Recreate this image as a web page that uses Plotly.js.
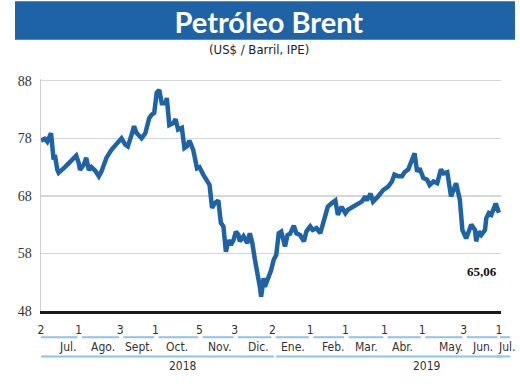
<!DOCTYPE html>
<html><head><meta charset="utf-8">
<script src="https://cdn.plot.ly/plotly-3.0.1.min.js"></script>
<style>html,body{margin:0;padding:0;background:#fff}#chart{width:520px;height:390px}</style>
</head><body><div id="chart"></div>
<script>
const dates = [
'2018-07-02','2018-07-05','2018-07-07','2018-07-10','2018-07-12','2018-07-13','2018-07-15','2018-07-16','2018-07-21','2018-07-26',
'2018-07-30','2018-08-01','2018-08-02','2018-08-05','2018-08-07','2018-08-09','2018-08-11','2018-08-14','2018-08-17','2018-08-19',
'2018-08-23','2018-08-27','2018-08-31','2018-09-04','2018-09-07','2018-09-09','2018-09-12','2018-09-14','2018-09-16','2018-09-20',
'2018-09-23','2018-09-26','2018-09-28','2018-09-30','2018-10-02','2018-10-04','2018-10-06','2018-10-09','2018-10-10','2018-10-12',
'2018-10-15','2018-10-17','2018-10-19','2018-10-22','2018-10-24','2018-10-26','2018-10-28','2018-10-31','2018-11-03','2018-11-05',
'2018-11-08','2018-11-11','2018-11-13','2018-11-15','2018-11-17','2018-11-20','2018-11-22','2018-11-24','2018-11-26','2018-11-28',
'2018-11-30','2018-12-02','2018-12-04','2018-12-06','2018-12-07','2018-12-10','2018-12-13','2018-12-15','2018-12-17','2018-12-19',
'2018-12-21','2018-12-23','2018-12-24','2018-12-26','2018-12-27','2018-12-29','2019-01-01','2019-01-03','2019-01-05','2019-01-07',
'2019-01-09','2019-01-12','2019-01-14','2019-01-16','2019-01-19','2019-01-21','2019-01-24','2019-01-27','2019-01-29','2019-02-01',
'2019-02-03','2019-02-06','2019-02-09','2019-02-11','2019-02-15','2019-02-18','2019-02-21','2019-02-23','2019-02-26','2019-03-01',
'2019-03-03','2019-03-07','2019-03-11','2019-03-14','2019-03-17','2019-03-18','2019-03-21','2019-03-23','2019-03-27','2019-03-31',
'2019-04-04','2019-04-07','2019-04-09','2019-04-12','2019-04-15','2019-04-17','2019-04-20','2019-04-23','2019-04-25','2019-04-27',
'2019-04-29','2019-05-02','2019-05-05','2019-05-07','2019-05-10','2019-05-13','2019-05-16','2019-05-18','2019-05-21','2019-05-24',
'2019-05-26','2019-05-28','2019-05-31','2019-06-02','2019-06-05','2019-06-07','2019-06-09','2019-06-12','2019-06-13','2019-06-15',
'2019-06-17','2019-06-20','2019-06-21','2019-06-23','2019-06-25','2019-06-28','2019-06-29','2019-07-01'
];
const prices = [
77.6,77.9,77.4,78.9,74.3,75.1,72.5,72.0,73.0,74.0,
75.0,73.7,72.5,73.4,74.6,72.5,73.0,72.4,71.4,72.2,
74.6,76.0,76.9,78.0,76.9,76.6,78.6,80.1,78.9,78.0,
78.9,81.5,82.1,82.4,85.9,86.4,84.1,84.1,85.0,80.3,
80.6,81.3,79.5,79.8,76.3,76.6,77.6,76.0,72.8,73.0,
71.7,70.5,69.9,65.9,66.7,67.2,63.3,62.7,58.3,60.3,
59.5,60.3,61.8,61.2,60.1,61.0,59.8,61.5,59.8,57.0,
55.0,52.2,50.5,53.7,52.2,53.4,55.1,56.9,57.7,61.5,
61.8,59.2,61.2,61.4,62.8,61.5,61.2,60.1,61.8,62.7,
62.1,62.4,61.5,63.0,66.1,66.7,67.2,64.7,66.1,65.0,
65.6,66.1,66.7,67.0,67.9,67.2,68.4,67.0,67.9,69.0,
69.6,70.5,71.7,71.4,71.4,72.1,72.6,74.6,75.4,72.2,
72.8,71.1,70.8,69.9,70.5,70.2,72.6,71.9,72.1,67.9,
69.3,70.2,67.3,62.1,60.6,62.1,63.0,62.1,60.1,61.8,
61.2,62.1,64.1,65.0,64.7,66.4,66.4,65.06
];
const tickDates = ['2018-07-02','2018-08-01','2018-09-03','2018-10-01','2018-11-05','2018-12-03','2019-01-02','2019-02-01','2019-03-01','2019-04-01','2019-05-01','2019-06-03','2019-07-01'];
const tickText = ['2','1','3','1','5','3','2','1','1','1','1','3','1'];
const monthNames = ['Jul.','Ago.','Sept.','Oct.','Nov.','Dic.','Ene.','Feb.','Mar.','Abr.','May.','Jun.','Jul.'];
const monthLabelDates = ['2018-07-23','2018-08-20','2018-09-18','2018-10-18','2018-11-21','2018-12-22','2019-01-18','2019-02-19','2019-03-18','2019-04-15','2019-05-24','2019-06-18','2019-07-01'];
const years = ['2018','2019'];
const yearLabelDates = ['2018-10-23','2019-05-05'];
const yearSpans = [['2018-07-01','2019-01-03'],['2019-01-05','2019-07-02 17:00']];
const yTicks = [48,58,68,78,88];

const BLUE = '#1f63a7';
const LIGHT = '#8ec3ea';
const NARROW = '"Liberation Sans Narrow","DejaVu Sans Condensed","Roboto Condensed",sans-serif';
const DAY = 86400000;
const ms = d => new Date(d.replace(' ','T') + (d.length > 10 ? ':00Z' : 'T00:00:00Z')).getTime();

const shapes = [
  {type:'rect', xref:'paper', yref:'paper', x0:-0.0565, x1:1.0304, y0:1.1696, y1:1.3348,
   fillcolor:BLUE, line:{width:0}, layer:'below'}
];
// month segments
for (let i = 0; i < tickDates.length - 1; i++) {
  const a = ms(tickDates[i]) + (i === 0 ? -DAY : 2.5*DAY);
  const b = ms(tickDates[i+1]) - 1*DAY;
  shapes.push({type:'line', xref:'x', yref:'paper', x0:a, x1:b, y0:-0.113, y1:-0.113,
    line:{color:LIGHT, width:2}});
}
// last (July 2019) segment runs past the plot edge
shapes.push({type:'line', xref:'paper', yref:'paper', x0:0.998, x1:1.02, y0:-0.113, y1:-0.113, line:{color:LIGHT, width:2}});
// year spans
yearSpans.forEach(s => shapes.push({type:'line', xref:'x', yref:'paper', x0:ms(s[0]), x1:ms(s[1]), y0:-0.196, y1:-0.196, line:{color:LIGHT, width:2}}));
shapes.push({type:'line', xref:'paper', yref:'paper', x0:0.99, x1:1.02, y0:-0.196, y1:-0.196, line:{color:LIGHT, width:2}});

const annotations = [
  {text:'(US$ / Barril, IPE)', xref:'paper', yref:'paper', x:0.474, y:1.126, showarrow:false,
   xanchor:'center', yanchor:'middle', font:{family:NARROW, size:13, color:'#222'}},
  {text:'<b>' + prices[prices.length-1].toFixed(2).replace('.', ',') + '</b>', xref:'x', yref:'y',
   x:dates[dates.length-1], y:54.8, xanchor:'right', yanchor:'middle', showarrow:false,
   font:{family:'"Liberation Serif","DejaVu Serif",serif', size:13, color:'#111'}}
];
monthNames.forEach((m, i) => annotations.push({
  text:m, xref:'x', yref:'paper', x:monthLabelDates[i], y:-0.157, showarrow:false,
  xanchor:'center', yanchor:'middle', xshift: i === monthNames.length-1 ? 8 : 0,
  font:{family:NARROW, size:12, color:'#333'}
}));
years.forEach((y, i) => annotations.push({
  text:y, xref:'x', yref:'paper', x:yearLabelDates[i], y:-0.239, showarrow:false,
  xanchor:'center', yanchor:'middle', font:{family:NARROW, size:12, color:'#333'}
}));

const trace = {
  type:'scatter', mode:'lines', x:dates, y:prices,
  line:{color:BLUE, width:4.5}, hoverinfo:'skip'
};

const layout = {
  width:520, height:390,
  margin:{l:41, r:19, t:79, b:79},
  paper_bgcolor:'#fff', plot_bgcolor:'#fff',
  showlegend:false,
  title:{text:'<b>Petróleo Brent</b>', font:{family:'Lato, "Open Sans", sans-serif', size:29, color:'#fff'},
    x:0.517, xanchor:'center', y:1-23/390, yanchor:'middle'},
  xaxis:{type:'date', range:['2018-07-02','2019-07-02 17:00'], showgrid:false, zeroline:false,
    showline:true, linecolor:'#1a1a1a', linewidth:2.5,
    tickmode:'array', tickvals:tickDates, ticktext:tickText, ticks:'',
    ticklabelstandoff:6, tickfont:{family:NARROW, size:12, color:'#333'}},
  yaxis:{range:[48,88.3], tickmode:'array', tickvals:yTicks, showgrid:true, gridcolor:'#d6d6d6', gridwidth:1.5,
    zeroline:false, showline:true, linecolor:'#cfcfcf', linewidth:1.5, ticks:'', ticklabelstandoff:5,
    tickfont:{family:'"Liberation Serif","DejaVu Serif",serif', size:14, color:'#333'}},
  shapes:shapes, annotations:annotations
};
Plotly.newPlot('chart', [trace], layout, {staticPlot:true, displayModeBar:false});
</script></body></html>
